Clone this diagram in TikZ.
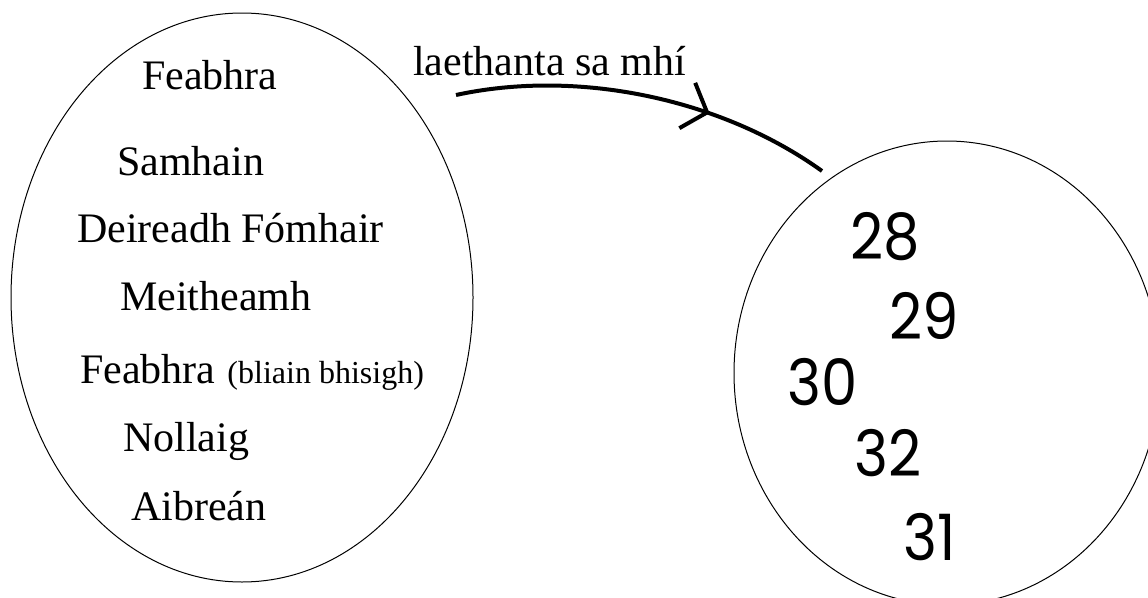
\documentclass[tikz,border=0pt]{standalone}
\usepackage{fontspec}
\setmainfont{Liberation Serif}
\newfontfamily\numfont[FakeStretch=0.9]{Poppins}
\usetikzlibrary{arrows.meta,decorations.markings,shapes.geometric}
\begin{document}
\begin{tikzpicture}[x=1pt,y=-1pt,
  month/.style={anchor=base west, inner sep=0pt, font=\fontsize{42}{50}\selectfont},
  num/.style={anchor=center, inner sep=0pt, font=\numfont\fontsize{64}{70}\selectfont},
  setshape/.style={draw, ellipse, line width=1pt, inner sep=0pt}]
\useasboundingbox (0,0) rectangle (1148,597);
\node[setshape, minimum width=462pt, minimum height=569pt] (months) at (242,297.5) {};
\node[setshape, minimum width=426pt, minimum height=464pt] (days) at (947,373) {};

\node[month] (m1) at (142,89) {Feabhra};
\node[month] (m2) at (117,175) {Samhain};
\node[month] (m3) at (77,242) {Deireadh Fómhair};
\node[month] (m4) at (120,310) {Meitheamh};
\node[month] (m5) at (80,383) {Feabhra\hspace{12pt}{\fontsize{32}{36}\selectfont(bliain bhisigh)}};
\node[month] (m6) at (123,451) {Nollaig};
\node[month] (m7) at (131,520) {Aibreán};

\node[num] (d28) at (885,237) {28};
\node[num] (d29) at (924,316) {29};
\node[num] (d30) at (822.5,382) {30};
\node[num] (d32) at (888,453) {32};
\node[num] (d31) at (930,537) {31};

\node[month] (lbl) at (413,75) {laethanta sa mhí};

\coordinate (s) at (456,95);
\coordinate (e) at (822,171);
\draw[line width=4pt, postaction={decorate},
  decoration={markings, mark=at position 0.67 with {\arrow{Straight Barb[length=21pt,width=48pt]}}}]
  (s) to[bend left=24, looseness=0.85] (e);
\end{tikzpicture}
\end{document}
